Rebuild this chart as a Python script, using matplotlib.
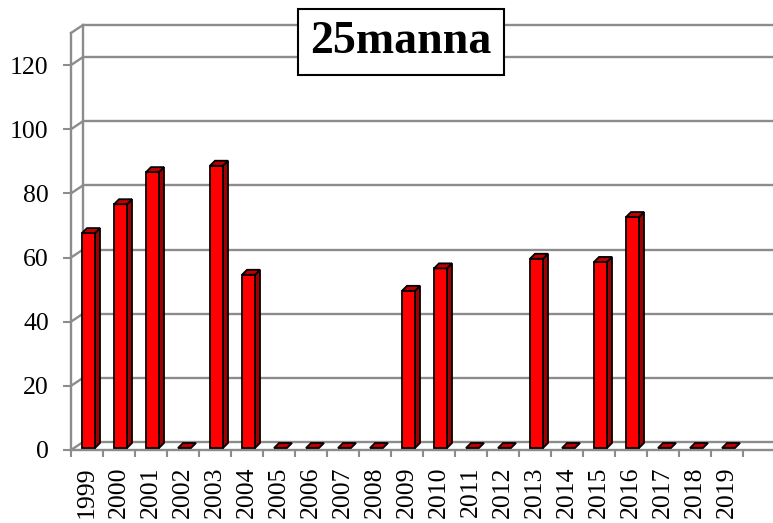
import matplotlib
matplotlib.use("Agg")
import matplotlib.pyplot as plt
from matplotlib.patches import Polygon
import numpy as np

plt.rcParams['font.family'] = ['Liberation Serif', 'DejaVu Serif']

years = ['1999', '2000', '2001', '2002', '2003', '2004', '2005', '2006', '2007', '2008',
         '2009', '2010', '2011', '2012', '2013', '2014', '2015', '2016', '2017', '2018', '2019']
values = [67, 76, 86, 0, 88, 54, 0, 0, 0, 0, 49, 56, 0, 0, 59, 0, 58, 72, 0, 0, 0]
yticks = [0, 20, 40, 60, 80, 100, 120]
title = '25manna'

W, H = 773, 523
fig = plt.figure(figsize=(W / 100, H / 100), dpi=100)
x0, x1, y0, y1 = 71, 773, 450, 33
ax = fig.add_axes([x0 / W, (H - y0) / H, (x1 - x0) / W, (y0 - y1) / H])
ymax = 130
catw = 32.0
ax.set_ylim(0, ymax)
ax.set_xlim(-0.5, -0.5 + (x1 - x0) / catw)
ppx = catw
ppy = (y0 - y1) / ymax

grid_c = '#8c8c8c'
# wall offsets (data units)
wdx = 12 / ppx
wdy = 8 / ppy
xl = ax.get_xlim()
for v in yticks + [ymax]:
    ax.plot([xl[0] + wdx, xl[1] + wdx], [v + wdy, v + wdy], color=grid_c, lw=1.7,
            clip_on=False, zorder=1, solid_capstyle='butt')
    ax.plot([xl[0], xl[0] + wdx], [v, v + wdy], color=grid_c, lw=1.7, clip_on=False, zorder=1)
ax.plot([xl[0] + wdx, xl[0] + wdx], [wdy, ymax + wdy], color=grid_c, lw=1.7, clip_on=False, zorder=1)

for s in ['top', 'right']:
    ax.spines[s].set_visible(False)
for s in ['left', 'bottom']:
    ax.spines[s].set_color(grid_c)
    ax.spines[s].set_linewidth(1.7)
ax.spines['left'].set_zorder(1)

# bars (pseudo 3D)
fw = 13 / ppx
fo = 1.5 / ppx
bdy = 2 / ppy
ddx = 5 / ppx
ddy = 5 / ppy
for i, v in enumerate(values):
    left = i + fo - fw / 2
    right = left + fw
    b = bdy
    t = v + bdy
    if v > 0:
        ax.add_patch(Polygon([(right, b), (right + ddx, b + ddy), (right + ddx, t + ddy), (right, t)],
                             closed=True, facecolor='#a00000', edgecolor='black', lw=1.3, zorder=3))
        ax.bar(left, v, width=fw, bottom=bdy, align='edge', color='#ff0000',
               edgecolor='black', linewidth=1.3, zorder=4)
    ax.add_patch(Polygon([(left, t), (right, t), (right + ddx, t + ddy), (left + ddx, t + ddy)],
                         closed=True, facecolor='#c00000', edgecolor='black', lw=1.3, zorder=5))

ax.set_yticks(yticks)
ax.set_yticklabels([str(v) for v in yticks], fontsize=18.5)
ax.tick_params(axis='y', length=6, width=1.5, color=grid_c, pad=10)

ax.set_xticks(np.arange(len(years)))
ax.set_xticklabels(years, rotation=90, fontsize=18.5)
ax.set_xticks(np.arange(len(years) + 1) - 0.5, minor=True)
ax.tick_params(axis='x', which='major', length=0, pad=12)
ax.tick_params(axis='x', which='minor', length=5, width=1.5, color=grid_c)
ax.patch.set_visible(False)

fig.text(401 / W, 1 - 42 / H, title, fontsize=33, fontweight='bold', ha='center', va='center',
         bbox=dict(boxstyle='square,pad=0.26', facecolor='white', edgecolor='black', lw=1.5),
         zorder=10)

fig.savefig('out.png', dpi=100)
